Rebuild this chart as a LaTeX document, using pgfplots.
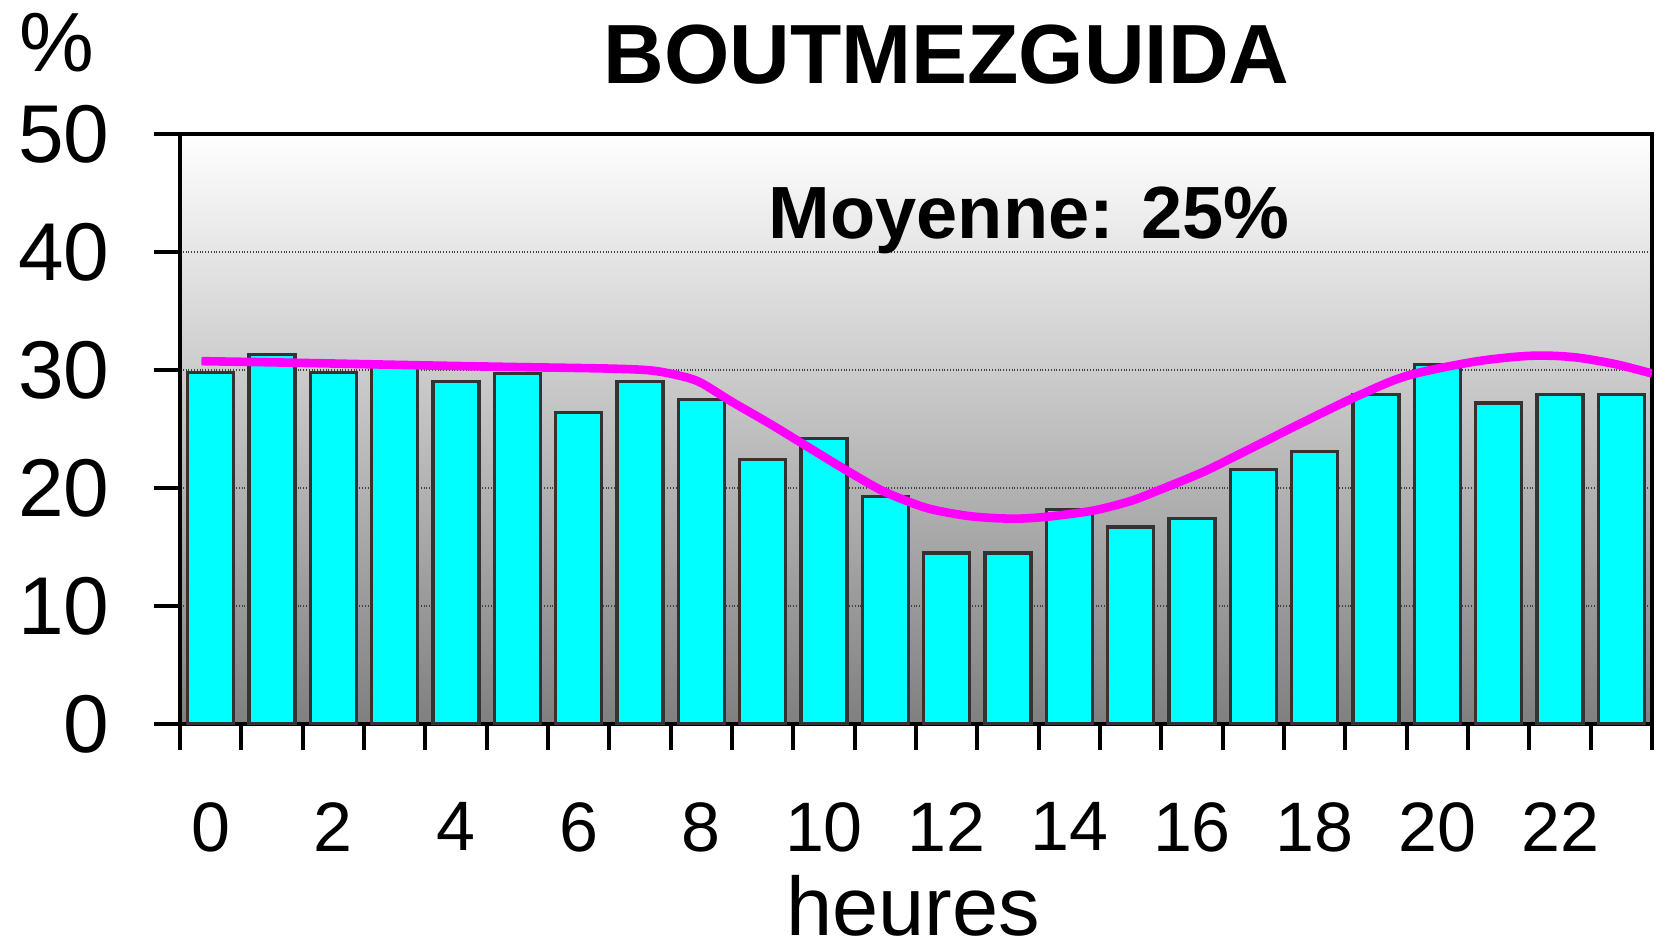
\documentclass[border=0pt]{standalone}
\usepackage{fontspec}
\setmainfont{Liberation Sans}
\usepackage{pgfplots}
\usepackage{pgfplotstable}
\pgfplotsset{compat=1.18}
\definecolor{barcyan}{RGB}{0,255,255}
\definecolor{linemag}{RGB}{255,0,255}
\definecolor{baredge}{RGB}{51,51,51}
\pgfplotstableread{
h val
0 29.8
1 31.3
2 29.8
3 30.5
4 29.0
5 29.7
6 26.4
7 29.0
8 27.5
9 22.4
10 24.2
11 19.3
12 14.5
13 14.5
14 18.2
15 16.7
16 17.4
17 21.6
18 23.1
19 27.9
20 30.5
21 27.2
22 27.9
23 27.9
}\bars
\begin{document}
\begin{tikzpicture}
\begin{axis}[
  scale only axis, width=736pt, height=295pt,
  xmin=-0.5, xmax=23.5, ymin=0, ymax=50,
  axis line style={line width=2.2pt, black},
  xtick={-0.5,0.5,...,23.5},
  xticklabels={0,,2,,4,,6,,8,,10,,12,,14,,16,,18,,20,,22,,},
  ytick={0,10,...,50},
  every tick/.style={line width=2pt, black},
  major tick length=13pt,
  tick align=outside,
  xtick pos=bottom, ytick pos=left,
  ymajorgrids,
  major grid style={densely dotted, line width=0.6pt, black!75},
  /pgf/number format/assume math mode=true,
  yticklabel style={font=\fontsize{41}{41}\selectfont, anchor=east, inner sep=0pt, xshift=-22pt},
  xticklabel style={font=\fontsize{35}{35}\selectfont, anchor=north, inner sep=0pt, xshift=15.33pt, yshift=-26pt},
  axis background/.style={shade, top color=white, middle color=black!20, bottom color=black!50},
]
\addplot[ybar, bar width=0.75, fill=barcyan, draw=baredge, line width=1.6pt] table[x=h, y=val] {\bars};
\addplot[linemag, line width=4.3pt, smooth, tension=0.5] coordinates {
(-0.15,30.75) (1,30.65) (2,30.55) (3.4,30.4) (5,30.25) (6.5,30.12) (7.2,29.95) (7.7,29.45)
(8.0,28.9) (8.5,27.3) (9.1,25.5) (9.7,23.6) (10.3,21.7) (10.9,19.9) (11.35,18.9) (11.75,18.2)
(12.4,17.6) (13.1,17.4) (13.7,17.6) (14.4,18.1) (15.0,18.9) (15.5,19.9) (16.2,21.4) (16.9,23.2)
(17.9,25.8) (18.7,27.8) (19.5,29.5) (20.6,30.7) (21.5,31.2) (22.2,31.1) (22.9,30.5) (23.5,29.7)
};
\end{axis}
\node[anchor=base east, inner sep=0pt, font=\fontsize{42}{42}\selectfont\bfseries] at (555pt,320.3pt) {BOUTMEZGUIDA};
\node[anchor=base east, inner sep=0pt, font=\fontsize{37}{37}\selectfont\bfseries] at (555pt,242.9pt) {Moyenne: 25\%};
\node[anchor=base west, inner sep=0pt, font=\fontsize{42}{42}\selectfont] at (-80.5pt,326pt) {\%};
\node[anchor=base, inner sep=0pt, font=\fontsize{41.5}{41.5}\selectfont] at (366.5pt,-105.5pt) {heures};
\pgfresetboundingbox
\path[use as bounding box] (-90pt,-110pt) rectangle (738.5pt,362pt);
\end{tikzpicture}
\end{document}
